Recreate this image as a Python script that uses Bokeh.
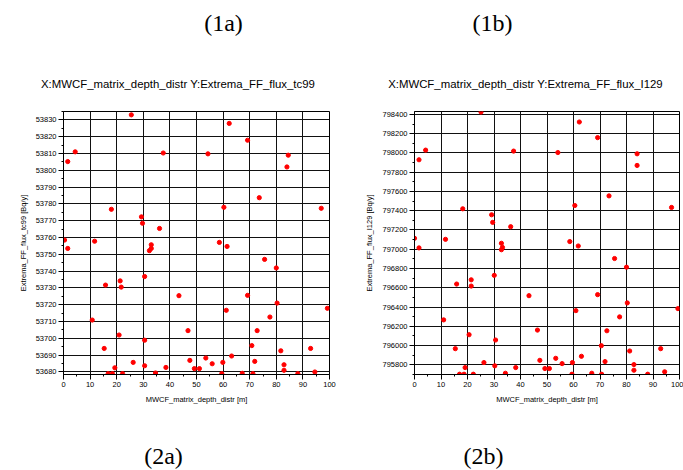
from bokeh.plotting import figure
from bokeh.layouts import row, column
from bokeh.models import Range1d, Label, FixedTicker, BasicTickFormatter
from bokeh.embed import file_html
from bokeh.resources import INLINE

# ---- data ----
depth_a = [0.4, 1.6, 1.6, 4.4, 10.8, 11.7, 15.3, 15.8, 16.8, 18.0, 18.4, 19.3, 20.9,
           21.3, 21.7, 22.2, 25.5, 26.2, 29.3, 29.7, 30.5, 30.5, 30.5, 32.3, 33.0,
           33.0, 34.6, 36.1, 37.5, 38.5, 43.4, 46.8, 47.5, 49.2, 51.1, 53.5, 54.3,
           55.9, 58.6, 59.5, 59.9, 60.3, 61.2, 61.5, 62.3, 63.2, 67.2, 69.2, 69.2,
           70.8, 71.2, 71.9, 72.8, 73.6, 75.6, 77.6, 80.0, 80.3, 81.7, 82.9, 82.9,
           84.0, 84.5, 88.1, 92.9, 94.5, 96.9, 99.2]
flux_tc99 = [53758.5, 53805.2, 53753.5, 53811.0, 53710.9, 53757.8, 53694.0, 53731.7,
             53679.0, 53776.8, 53679.0, 53682.5, 53702.0, 53734.2, 53730.5, 53679.0,
             53833.0, 53685.7, 53772.3, 53768.5, 53736.8, 53698.9, 53683.7, 53752.2,
             53755.7, 53753.5, 53679.4, 53765.4, 53810.3, 53682.7, 53725.4, 53704.6,
             53686.9, 53682.0, 53682.0, 53688.3, 53809.8, 53684.9, 53757.1, 53679.0,
             53685.7, 53778.0, 53716.7, 53754.7, 53827.9, 53689.5, 53679.2, 53817.9,
             53725.6, 53695.7, 53679.0, 53686.3, 53704.6, 53783.7, 53747.0, 53712.7,
             53741.9, 53721.0, 53692.6, 53684.3, 53681.0, 53802.0, 53809.0, 53679.0,
             53694.0, 53680.0, 53777.4, 53717.9]

depth_b = [0.0, 1.7, 1.7, 4.2, 11.0, 11.7, 15.4, 15.9, 17.0, 18.2, 18.7, 19.1, 20.6,
           21.4, 21.4, 22.2, 25.1, 26.2, 29.1, 29.5, 30.1, 30.6, 30.3, 32.8, 32.8,
           33.2, 34.3, 36.3, 37.4, 38.2, 43.2, 46.4, 47.3, 49.2, 50.9, 53.3, 54.1,
           55.7, 58.6, 59.4, 59.6, 60.5, 60.9, 61.8, 62.2, 63.0, 66.9, 69.1, 69.1,
           70.5, 70.6, 71.9, 72.6, 73.4, 75.5, 77.4, 80.0, 80.3, 81.2, 82.8, 82.8,
           84.0, 84.0, 88.0, 92.9, 94.4, 97.0, 99.4]
flux_i129 = [797114, 797929, 797014, 798029, 796267, 797103, 795968, 796639, 795703,
             797420, 795703, 795772, 796113, 796683, 796618, 795703, 798424, 795824,
             797358, 797279, 796729, 796058, 795790, 796995, 797062, 797019, 795713,
             797234, 798019, 795772, 796518, 796161, 795847, 795762, 795762, 795868,
             798004, 795813, 797080, 795703, 795824, 797454, 796363, 797034, 798321,
             795889, 795713, 798159, 796529, 795999, 795703, 795834, 796154, 797554,
             796904, 796298, 796814, 796443, 795944, 795803, 795744, 797870, 797991,
             795703, 795968, 795728, 797434, 796384]

x_ticks = list(range(0, 101, 10))
x_minor = list(range(5, 100, 10))
y_ticks_a = list(range(53680, 53831, 10))
y_minor_a = list(range(53675, 53836, 10))
y_ticks_b = list(range(795800, 798401, 200))
y_minor_b = list(range(795700, 798431, 200))

titles = ["X:MWCF_matrix_depth_distr Y:Extrema_FF_flux_tc99",
          "X:MWCF_matrix_depth_distr Y:Extrema_FF_flux_I129"]
x_label = "MWCF_matrix_depth_distr [m]"
y_labels = ["Extrema_FF_flux_tc99 [Bq/y]", "Extrema_FF_flux_I129 [Bq/y]"]
top_tags = ["(1a)", "(1b)"]
bottom_tags = ["(2a)", "(2b)"]

SANS = "Liberation Sans"
SERIF = "Liberation Serif"
W = 683
TOP_H = 100
MID_H = 320
BOT_H = 50


def band(h, y0):
    b = figure(width=W, height=h, output_backend="svg", toolbar_location=None,
               x_range=Range1d(0, W), y_range=Range1d(y0 + h, y0),
               x_axis_location=None, y_axis_location=None,
               min_border=0, min_border_left=0, min_border_right=0,
               min_border_top=0, min_border_bottom=0,
               background_fill_color="white", border_fill_color="white")
    b.outline_line_color = None
    b.xgrid.visible = False
    b.ygrid.visible = False
    return b


def tag(fig, txt, x, y, font, size):
    fig.add_layout(Label(x=x, y=y, text=txt, text_font=font, text_font_size=size,
                         text_align="center", text_baseline="middle", text_color="black"))


top = band(TOP_H, 0)
tag(top, top_tags[0], 223, 22, SERIF, "24px")
tag(top, top_tags[1], 492, 22, SERIF, "24px")
tag(top, titles[0], 177.5, 83, SANS, "11.4px")
tag(top, titles[1], 525, 83, SANS, "11.4px")

bottom = band(BOT_H, TOP_H + MID_H)
tag(bottom, bottom_tags[0], 163, 455, SERIF, "24px")
tag(bottom, bottom_tags[1], 483, 455, SERIF, "24px")


def make_panel(xs, ys, yr, yt, ym, ylab, width, borders):
    bl, br, bt, bb = borders
    p = figure(width=width, height=MID_H, output_backend="svg", toolbar_location=None,
               x_range=Range1d(0, 100), y_range=Range1d(*yr),
               min_border_left=bl, min_border_right=br, min_border_top=bt, min_border_bottom=bb,
               background_fill_color="white", border_fill_color="white")
    p.outline_line_color = "black"
    p.outline_line_width = 1
    p.xaxis.ticker = FixedTicker(ticks=x_ticks, minor_ticks=x_minor)
    p.yaxis.ticker = FixedTicker(ticks=yt, minor_ticks=ym)
    p.yaxis.formatter = BasicTickFormatter(use_scientific=False)
    for ax in (p.xaxis[0], p.yaxis[0]):
        ax.axis_line_color = "black"
        ax.major_tick_line_color = "black"
        ax.minor_tick_line_color = "black"
        ax.major_tick_out = 5
        ax.major_tick_in = 0
        ax.minor_tick_out = 2
        ax.minor_tick_in = 0
        ax.major_label_text_font = SANS
        ax.major_label_text_font_size = "7.5px"
        ax.major_label_text_color = "black"
        ax.major_label_standoff = 2
        ax.axis_label_text_font = SANS
        ax.axis_label_text_font_size = "7.5px"
        ax.axis_label_text_font_style = "normal"
        ax.axis_label_text_color = "black"
        ax.axis_label_standoff = 5
    p.xaxis.axis_label = x_label
    p.yaxis.axis_label = ylab
    p.xgrid.grid_line_color = "#111111"
    p.ygrid.grid_line_color = "#111111"
    p.xgrid.grid_line_width = 1
    p.ygrid.grid_line_width = 1
    p.scatter(xs, ys, size=4.2, color="#ff0000", line_color="#ff0000")
    return p


p1 = make_panel(depth_a, flux_tc99, (53678.5, 53835), y_ticks_a, y_minor_a, y_labels[0],
                352, (63, 23, 11, 45))
p2 = make_panel(depth_b, flux_i129, (795700, 798430), y_ticks_b, y_minor_b, y_labels[1],
                331, (62, 4, 10, 46))

layout = column(top, row(p1, p2), bottom)
open("out.html", "w").write(file_html(layout, INLINE))
